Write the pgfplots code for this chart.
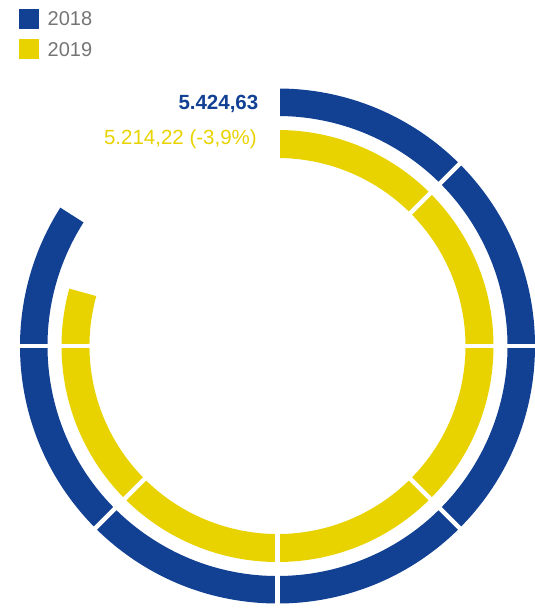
\documentclass[border=0pt]{standalone}
\usepackage{pgfplots}
\pgfplotsset{compat=1.18}
\usepackage{pgfplotstable}
\usepackage{fontspec}
\setmainfont{Liberation Sans}
\definecolor{c18}{HTML}{124194}
\definecolor{c19}{HTML}{E8D300}
\definecolor{lg}{HTML}{757575}

% year, value, inner radius, outer radius (px)
\pgfplotstableread{
year value rin rout
2018 5424.63 230 257.5
2019 5214.22 188 216
}\rings

\begin{document}
\begin{tikzpicture}
\pgfplotstablegetelem{0}{value}\of\rings \let\va\pgfplotsretval
\pgfplotstablegetelem{1}{value}\of\rings \let\vb\pgfplotsretval
% sweep of each ring, clockwise from the top
\pgfmathsetmacro{\ea}{90-(302.5+0.08127*(\va-5424.63))}
\pgfmathsetmacro{\eb}{90-(302.5+0.08127*(\vb-5424.63))}
\begin{axis}[
  name=ax,
  x=1pt, y=1pt, xmin=0, xmax=535, ymin=0, ymax=608,
  hide axis, clip=false,
]
\path (axis cs:0,0) rectangle (axis cs:535,608);

% legend
\fill[c18] (axis cs:19,579) rectangle (axis cs:39,599);
\fill[c19] (axis cs:19,548.5) rectangle (axis cs:39,568.5);
\node[anchor=base west, inner sep=0pt, text=lg, font=\fontsize{20}{20}\selectfont]
  at (axis cs:47.5,582.3) {2018};
\node[anchor=base west, inner sep=0pt, text=lg, font=\fontsize{20}{20}\selectfont]
  at (axis cs:47.5,551.5) {2019};

\begin{scope}[shift={(axis cs:277.5,262)}]
\fill[c18] (90:257.5pt) arc[start angle=90, end angle=\ea, radius=257.5pt]
  -- (\ea:230pt) arc[start angle=\ea, end angle=90, radius=230pt] -- cycle;
\fill[c19] (90:216pt) arc[start angle=90, end angle=\eb, radius=216pt]
  -- (\eb:188pt) arc[start angle=\eb, end angle=90, radius=188pt] -- cycle;
\pgfplotsinvokeforeach{90,45,0,-45,-90,-135,-180}{
  \draw[white, line width=4.5pt] (#1:175pt) -- (#1:265pt);
}
\end{scope}

\node[anchor=base east, inner sep=0pt, text=c18, font=\bfseries\fontsize{20.5}{21}\selectfont]
  at (axis cs:258.5,498) {5.424,63};
\node[anchor=base east, inner sep=0pt, text=c19, font=\fontsize{20.5}{21}\selectfont]
  at (axis cs:257,463) {5.214,22 (-3,9\%)};
\end{axis}
\pgfresetboundingbox
\path (ax.south west) rectangle (ax.north east);
\end{tikzpicture}
\end{document}
